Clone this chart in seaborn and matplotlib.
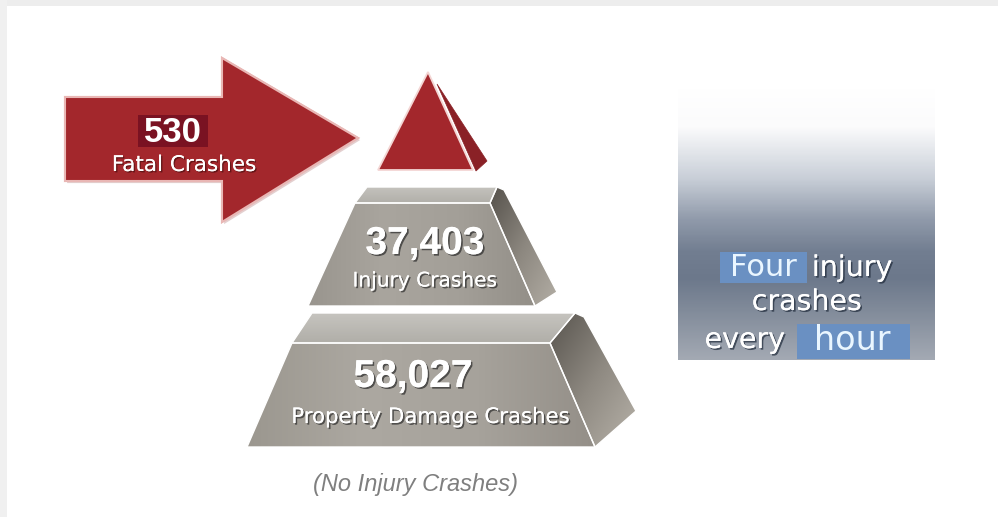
import numpy as np
import matplotlib
matplotlib.use("Agg")
import matplotlib.pyplot as plt
import matplotlib.patheffects as pe
from matplotlib.patches import Polygon, Rectangle
from matplotlib.colors import LinearSegmentedColormap
import seaborn as sns

# ---- data ----
categories = ["Fatal Crashes", "Injury Crashes", "Property Damage Crashes"]
counts = [530, 37403, 58027]
note_text = "(No Injury Crashes)"
callout_line1 = ["Four", "injury"]
callout_line2 = "crashes"
callout_line3 = ["every", "hour"]

sns.set_theme(style="white")
plt.rcParams['font.family'] = ['DejaVu Sans']

fig = plt.figure(figsize=(9.98, 5.17), dpi=100)
ax = fig.add_axes([0, 0, 1, 1])
ax.set_xlim(0, 998)
ax.set_ylim(517, 0)
ax.axis('off')

# frame shadow
ax.add_patch(Rectangle((0, 0), 998, 6, color='#ededed', lw=0, zorder=0))
ax.add_patch(Rectangle((0, 0), 7, 517, color='#f0f0f0', lw=0, zorder=0))


def grad_poly(pts, colors, direction='h', z=2, edge='white', lw=1.0):
    pts = np.array(pts, float)
    x0, x1 = pts[:, 0].min(), pts[:, 0].max()
    y0, y1 = pts[:, 1].min(), pts[:, 1].max()
    cmap = LinearSegmentedColormap.from_list('g', colors)
    n = 256
    if direction == 'h':
        arr = np.tile(np.linspace(0, 1, n), (8, 1))
    elif direction == 'v':
        arr = np.tile(np.linspace(0, 1, n)[:, None], (1, 8))
    else:  # diagonal
        xx, yy = np.meshgrid(np.linspace(0, 1, n), np.linspace(0, 1, n))
        arr = (xx + yy) / 2
    im = ax.imshow(arr, cmap=cmap, extent=(x0, x1, y1, y0), origin='upper',
                   aspect='auto', zorder=z, interpolation='bilinear')
    patch = Polygon(pts, closed=True, facecolor='none', edgecolor=edge, lw=lw, zorder=z + 0.5)
    ax.add_patch(patch)
    im.set_clip_path(patch)
    return patch

# ---- arrow ----
arrow = [(65, 97), (222, 97), (222, 58), (358, 138), (222, 222), (222, 181), (65, 181)]
ax.add_patch(Polygon(arrow, closed=True, facecolor='#a3272c', edgecolor='#e9b7b5', lw=1.5, zorder=2,
                     path_effects=[pe.withSimplePatchShadow(offset=(1.5, -1.5), shadow_rgbFace='#c9a0a0', alpha=0.5), pe.Normal()]))
ax.add_patch(Rectangle((138, 115), 70, 32, facecolor='#7a1222', lw=0, zorder=3))

shadow = [pe.withSimplePatchShadow(offset=(1.2, -1.2), shadow_rgbFace='#2a2a2a', alpha=0.7), pe.Normal()]
ax.text(173, 132, f"{counts[0]:,}", color='white', fontsize=25, fontweight='bold',
        family=['Liberation Sans'], ha='center', va='center', zorder=4)
ax.text(184, 165, categories[0], color='white', fontsize=15.5, ha='center', va='center', zorder=4,
        path_effects=[pe.withSimplePatchShadow(offset=(1, -1), shadow_rgbFace='#3a0a0a', alpha=0.6), pe.Normal()])

# ---- top triangle ----
ax.add_patch(Polygon([(437, 84), (487, 161), (476, 171)], closed=True, facecolor='#8a2126',
                     edgecolor='#8a2126', lw=0.5, zorder=2))
ax.add_patch(Polygon([(428, 72), (473, 170), (378, 170)], closed=True, facecolor='#a3272c',
                     edgecolor='#f3d6d4', lw=1.3, zorder=3))

# ---- middle tier ----
grad_poly([(367, 187), (497, 187), (490, 203), (355, 203)], ['#c4c2bd', '#b1afa9'], 'v')
grad_poly([(355, 203), (490, 203), (535, 306), (308, 306)], ['#99958e', '#a9a59e', '#a39f98', '#938f88'], 'h')
grad_poly([(497, 187), (504, 190), (557, 292), (535, 306), (490, 203)], ['#55514b', '#8c877f', '#b3aea5'], 'd')

# ---- bottom tier ----
grad_poly([(312, 313), (575, 313), (550, 343), (292, 343)], ['#c6c4bf', '#b0aea8'], 'v')
grad_poly([(292, 343), (550, 343), (595, 447), (247, 447)], ['#9b978f', '#aca8a1', '#a6a29b', '#948f88'], 'h')
grad_poly([(575, 313), (584, 317), (636, 411), (595, 447), (550, 343)], ['#58544e', '#8e8981', '#b7b2a9'], 'd')

# tier labels
ax.text(425, 244, f"{counts[1]:,}", color='white', fontsize=28, fontweight='bold',
        family=['Liberation Sans'], ha='center', va='center', zorder=5, path_effects=shadow)
ax.text(425, 281, categories[1], color='white', fontsize=14.5, ha='center', va='center', zorder=5,
        path_effects=shadow)
ax.text(413, 377, f"{counts[2]:,}", color='white', fontsize=28, fontweight='bold',
        family=['Liberation Sans'], ha='center', va='center', zorder=5, path_effects=shadow)
ax.text(430, 417, categories[2], color='white', fontsize=15.3, ha='center', va='center', zorder=5,
        path_effects=shadow)

ax.text(416, 484, note_text, color='#7f7f7f', fontsize=17, style='italic',
        family=['Liberation Sans'], ha='center', va='center', zorder=5)

# ---- right gradient panel ----
stops = [(0.0, '#ffffff'), (0.14, '#fbfbfc'), (0.33, '#c9cfd8'), (0.48, '#919bab'),
         (0.60, '#727e91'), (0.70, '#6c788b'), (0.82, '#818b9a'), (1.0, '#a3a9b3')]
cm = LinearSegmentedColormap.from_list('panel', stops)
col = np.linspace(0, 1, 300)[:, None]
ax.imshow(np.tile(col, (1, 4)), cmap=cm, extent=(678, 935, 360, 88), origin='upper',
          aspect='auto', zorder=1, interpolation='bilinear')

ax.add_patch(Rectangle((720, 252), 87, 31, facecolor='#6a90c2', lw=0, zorder=2))
ax.add_patch(Rectangle((797, 324), 113, 35, facecolor='#6a90c2', lw=0, zorder=2))
wshadow = [pe.withSimplePatchShadow(offset=(1.2, -1.2), shadow_rgbFace='#1f2a3a', alpha=0.7), pe.Normal()]
ax.text(763, 268, callout_line1[0], color='#eaf6ff', fontsize=22, ha='center', va='center', zorder=3)
ax.text(852, 268, callout_line1[1], color='white', fontsize=20.5, ha='center', va='center', zorder=3,
        path_effects=wshadow)
ax.text(807, 302, callout_line2, color='white', fontsize=20.5, ha='center', va='center', zorder=3,
        path_effects=wshadow)
ax.text(745, 340, callout_line3[0], color='white', fontsize=20.5, ha='center', va='center', zorder=3,
        path_effects=wshadow)
ax.text(852, 340, callout_line3[1], color='#eaf6ff', fontsize=24, ha='center', va='center', zorder=3)

fig.savefig("out.png", dpi=100, facecolor='white')
